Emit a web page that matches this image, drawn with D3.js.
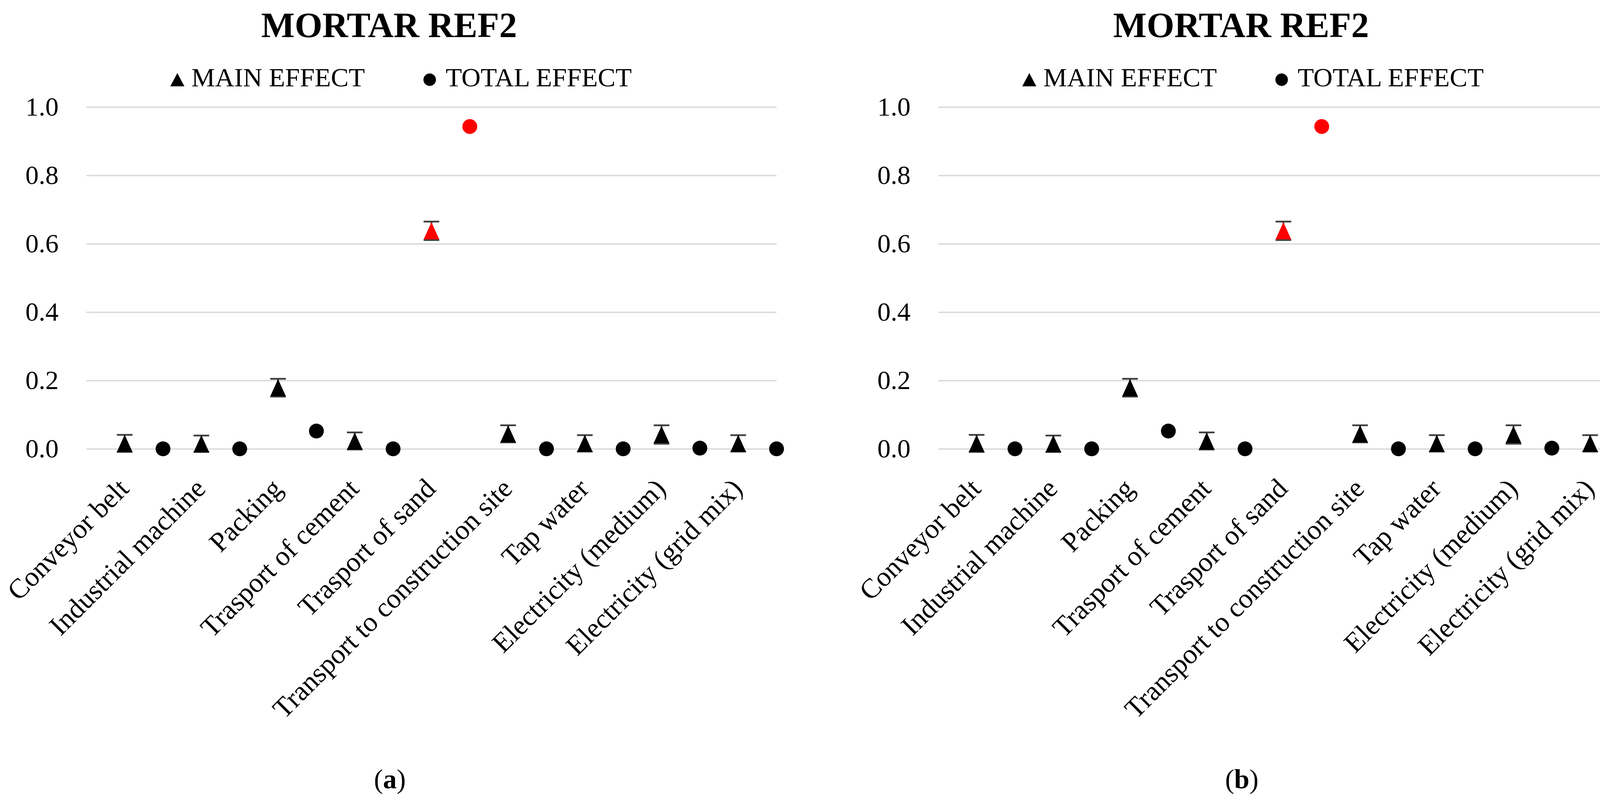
<!DOCTYPE html>
<html>
<head>
<meta charset="utf-8">
<script src="https://cdn.jsdelivr.net/npm/d3@7"></script>
<style>
  body { margin: 0; background: #fff; }
  text { font-family: "Liberation Serif", "DejaVu Serif", serif; fill: #000; }
</style>
</head>
<body>
<div id="chart"></div>
<script>
// Sensitivity indices (main / total effect), same data in both panels
var categories = ['Conveyor belt', 'Industrial machine', 'Packing', 'Trasport of cement', 'Trasport of sand',
    'Transport to construction site', 'Tap water', 'Electricity (medium)', 'Electricity (grid mix)'];
var mainEffect = [0.016, 0.015, 0.179, 0.023, 0.638, 0.044, 0.016, 0.042, 0.016];
var mainError = [0.025, 0.024, 0.026, 0.025, 0.027, 0.025, 0.024, 0.027, 0.024];
var totalEffect = [0.000, 0.000, 0.052, 0.000, 0.943, 0.000, 0.000, 0.002, 0.000];
var highlighted = ['Trasport of sand'];
var yTicks = [0.0, 0.2, 0.4, 0.6, 0.8, 1.0];
var panels = ['a', 'b'];

var W = 4208, H = 2048;
var svg = d3.select('#chart').append('svg').attr('width', W).attr('height', H);

function trianglePath(cx, cy, w, h) {
    return 'M' + cx + ',' + (cy - h / 2) + 'L' + (cx + w / 2) + ',' + (cy + h / 2) + 'L' + (cx - w / 2) + ',' + (cy + h / 2) + 'Z';
}

function colorFor(cat) {
    return highlighted.indexOf(cat) >= 0 ? '#ff0000' : '#000';
}

function drawPanel(g, letter) {
    var left = 221, right = 1988, top = 274, bottom = 1149;
    var x = d3.scaleLinear().domain([0, categories.length * 2]).range([left, right]);
    var y = d3.scaleLinear().domain([0, 1]).range([bottom, top]);

    g.append('text').attr('x', 996).attr('y', 95).attr('text-anchor', 'middle')
        .style('font-size', '91px').style('font-weight', 'bold').text('MORTAR REF2');

    // legend
    g.append('path').attr('d', trianglePath(454, 204, 36, 34)).attr('fill', '#000');
    g.append('text').attr('x', 490).attr('y', 221).style('font-size', '68px').text('MAIN EFFECT');
    g.append('circle').attr('cx', 1100).attr('cy', 204).attr('r', 16).attr('fill', '#000');
    g.append('text').attr('x', 1141).attr('y', 221).style('font-size', '68px').text('TOTAL EFFECT');

    var yAxis = g.append('g').attr('transform', 'translate(' + left + ',0)')
        .call(d3.axisLeft(y).tickValues(yTicks).tickFormat(d3.format('.1f'))
            .tickSizeInner(-(right - left)).tickSizeOuter(0).tickPadding(71));
    yAxis.select('.domain').remove();
    yAxis.selectAll('line').attr('stroke', '#d9d9d9').attr('stroke-width', 3.5);
    yAxis.selectAll('text').style('font-size', '68px').attr('font-family', null);

    var xAxis = g.append('g').attr('transform', 'translate(0,' + bottom + ')')
        .call(d3.axisBottom(x).tickValues(categories.map(function(d, i) { return 2 * i + 1; }))
            .tickFormat(function(d) { return categories[(d - 1) / 2]; }).tickSize(0));
    xAxis.select('.domain').remove();
    xAxis.selectAll('text').attr('x', 14).attr('y', 106).attr('dy', 0)
        .attr('text-anchor', 'end').attr('transform', 'rotate(-45,14,106)')
        .style('font-size', '71px').attr('font-family', null);

    // error bars on main effect
    var bars = g.selectAll('.err').data(categories).enter().append('g').attr('class', 'err')
        .attr('stroke', '#404040').attr('stroke-width', 4.5);
    bars.append('line')
        .attr('x1', function(d, i) { return x(2 * i + 1); }).attr('x2', function(d, i) { return x(2 * i + 1); })
        .attr('y1', function(d, i) { return y(mainEffect[i] - mainError[i]); })
        .attr('y2', function(d, i) { return y(mainEffect[i] + mainError[i]); });
    [-1, 1].forEach(function(s) {
        bars.append('line')
            .attr('x1', function(d, i) { return x(2 * i + 1) - 20; }).attr('x2', function(d, i) { return x(2 * i + 1) + 20; })
            .attr('y1', function(d, i) { return y(mainEffect[i] + s * mainError[i]); })
            .attr('y2', function(d, i) { return y(mainEffect[i] + s * mainError[i]); });
    });

    g.selectAll('.main').data(categories).enter().append('path').attr('class', 'main')
        .attr('d', function(d, i) { return trianglePath(x(2 * i + 1), y(mainEffect[i]), 40, 44); })
        .attr('fill', colorFor);

    g.selectAll('.total').data(categories).enter().append('circle').attr('class', 'total')
        .attr('cx', function(d, i) { return x(2 * i + 2); })
        .attr('cy', function(d, i) { return y(totalEffect[i]); })
        .attr('r', 19).attr('fill', colorFor);

    var cap = g.append('text').attr('x', 998).attr('y', 2018).attr('text-anchor', 'middle').style('font-size', '70px');
    cap.append('tspan').text('(');
    cap.append('tspan').style('font-weight', 'bold').text(letter);
    cap.append('tspan').text(')');
}

panels.forEach(function(letter, k) {
    drawPanel(svg.append('g').attr('transform', 'translate(' + (k * 2181) + ',0)'), letter);
});
</script>
</body>
</html>
